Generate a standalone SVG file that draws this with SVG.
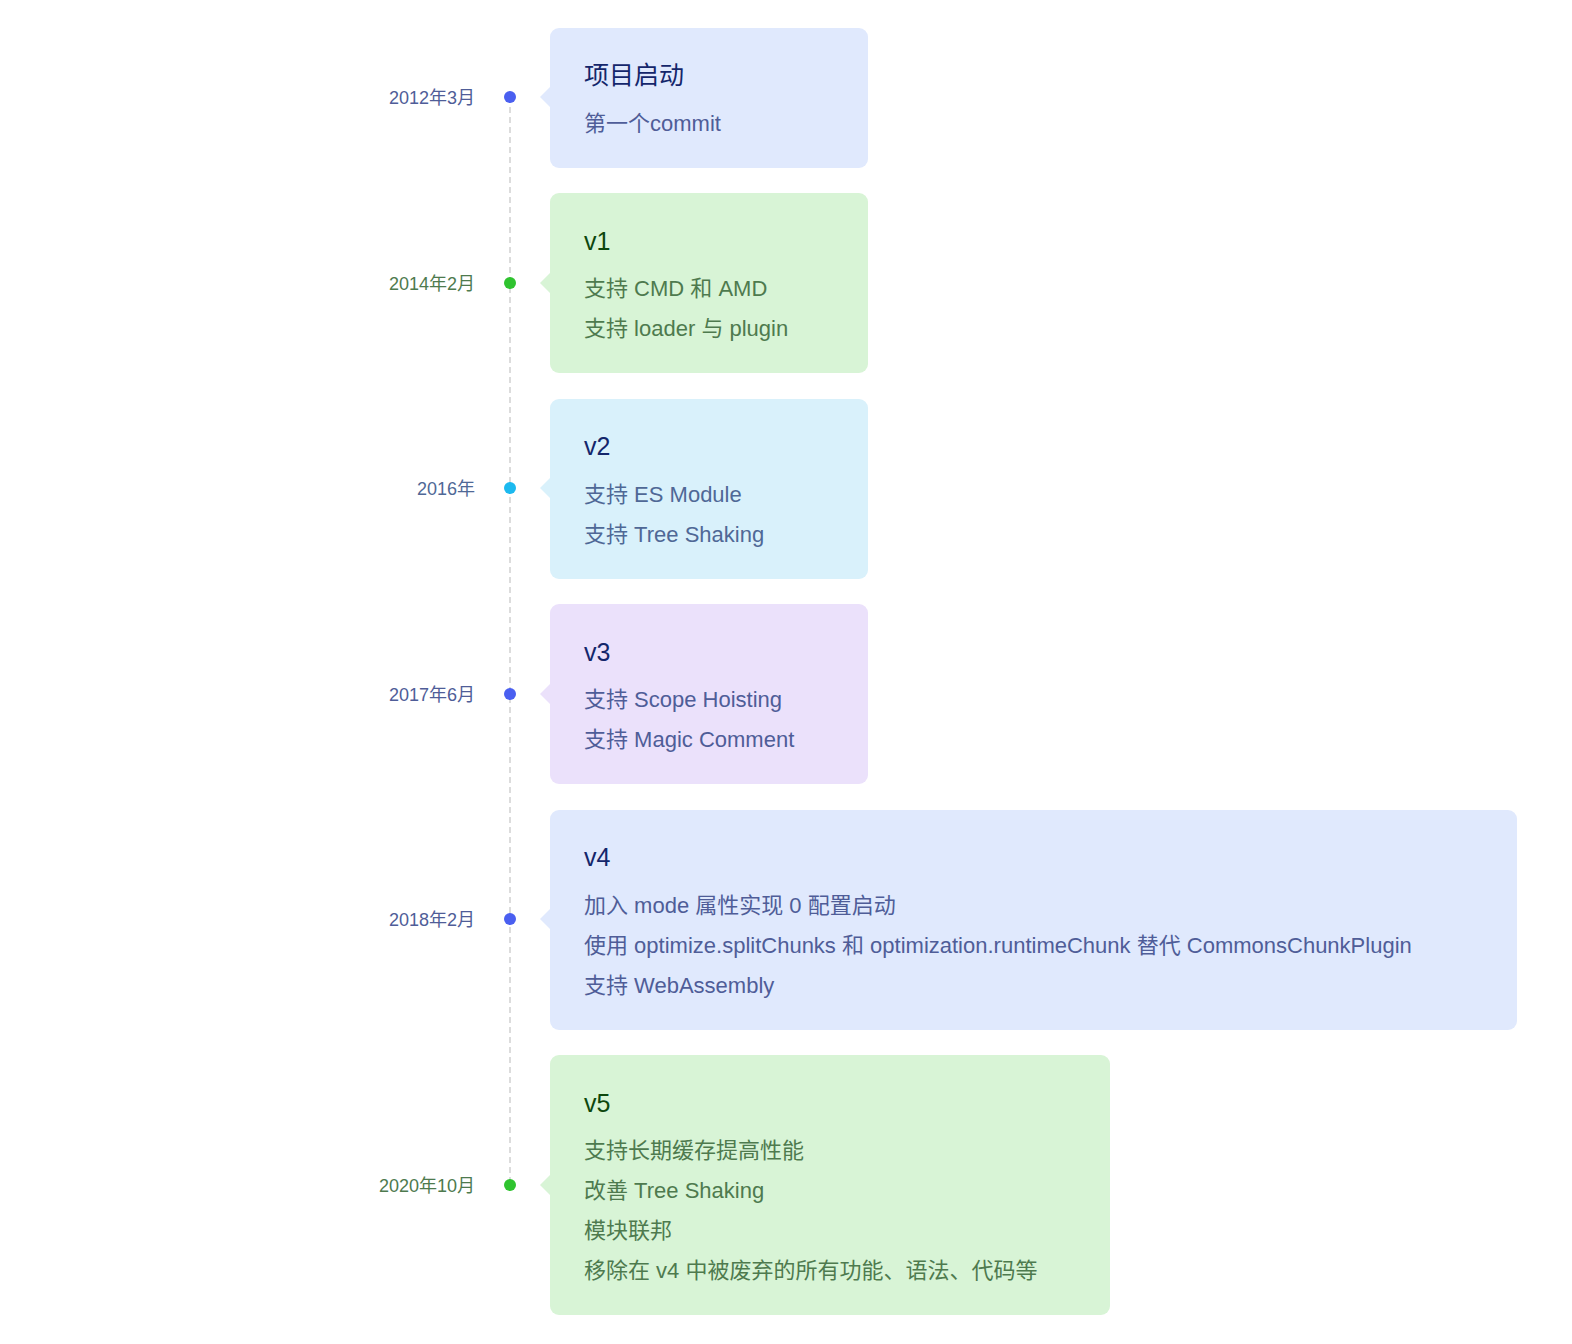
<svg xmlns="http://www.w3.org/2000/svg" width="1572" height="1344" viewBox="0 0 1572 1344">
<style>
text{font-family:"Liberation Sans","Noto Sans CJK SC",sans-serif}
.d{font-size:18px;text-anchor:end}
.t{font-size:25px}
.b{font-size:22px}
.bl .card{fill:#e0e9fd}.bl .t{fill:#14266b}.bl .b,.bl .d{fill:#4f5d98}.bl .dot{fill:#4a5ff0}
.gr .card{fill:#d8f4d6}.gr .t{fill:#0d470d}.gr .b,.gr .d{fill:#4e7a4e}.gr .dot{fill:#2fc32f}
.cy .card{fill:#d9f1fb}.cy .t{fill:#14266b}.cy .b,.cy .d{fill:#4f6896}.cy .dot{fill:#1cb9ef}
.pu .card{fill:#ebe1fb}.pu .t{fill:#14266b}.pu .b,.pu .d{fill:#4f5d98}.pu .dot{fill:#4a5ff0}
</style>
<rect width="1572" height="1344" fill="#fff"/>
<g id="connectors"><line x1="510" y1="97" x2="510" y2="1185" stroke="#dcdcdc" stroke-width="2" stroke-dasharray="6,4"/></g>
<g id="n1" class="bl"><text class="d" x="475" y="104">2012年3月</text><circle class="dot" cx="510" cy="97" r="6"/><rect class="card" x="550" y="28" width="318" height="140" rx="9"/><path class="card" d="M540 97 L551 86 L551 108Z"/><text class="t" x="584" y="84">项目启动</text><text class="b" x="584" y="131">第一个commit</text></g>
<g id="n2" class="gr"><text class="d" x="475" y="290">2014年2月</text><circle class="dot" cx="510" cy="283" r="6"/><rect class="card" x="550" y="193" width="318" height="180" rx="9"/><path class="card" d="M540 283 L551 272 L551 294Z"/><text class="t" x="584" y="250">v1</text><text class="b" x="584" y="296">支持 CMD 和 AMD</text><text class="b" x="584" y="336">支持 loader 与 plugin</text></g>
<g id="n3" class="cy"><text class="d" x="475" y="495">2016年</text><circle class="dot" cx="510" cy="488" r="6"/><rect class="card" x="550" y="399" width="318" height="180" rx="9"/><path class="card" d="M540 488 L551 477 L551 499Z"/><text class="t" x="584" y="455">v2</text><text class="b" x="584" y="502">支持 ES Module</text><text class="b" x="584" y="542">支持 Tree Shaking</text></g>
<g id="n4" class="pu"><text class="d" x="475" y="701">2017年6月</text><circle class="dot" cx="510" cy="694" r="6"/><rect class="card" x="550" y="604" width="318" height="180" rx="9"/><path class="card" d="M540 694 L551 683 L551 705Z"/><text class="t" x="584" y="661">v3</text><text class="b" x="584" y="707">支持 Scope Hoisting</text><text class="b" x="584" y="747">支持 Magic Comment</text></g>
<g id="n5" class="bl"><text class="d" x="475" y="926">2018年2月</text><circle class="dot" cx="510" cy="919" r="6"/><rect class="card" x="550" y="810" width="967" height="220" rx="9"/><path class="card" d="M540 919 L551 908 L551 930Z"/><text class="t" x="584" y="866">v4</text><text class="b" x="584" y="913">加入 mode 属性实现 0 配置启动</text><text class="b" x="584" y="953">使用 optimize.splitChunks 和 optimization.runtimeChunk 替代 CommonsChunkPlugin</text><text class="b" x="584" y="993">支持 WebAssembly</text></g>
<g id="n6" class="gr"><text class="d" x="475" y="1192">2020年10月</text><circle class="dot" cx="510" cy="1185" r="6"/><rect class="card" x="550" y="1055" width="560" height="260" rx="9"/><path class="card" d="M540 1185 L551 1174 L551 1196Z"/><text class="t" x="584" y="1112">v5</text><text class="b" x="584" y="1158">支持长期缓存提高性能</text><text class="b" x="584" y="1198">改善 Tree Shaking</text><text class="b" x="584" y="1238">模块联邦</text><text class="b" x="584" y="1278">移除在 v4 中被废弃的所有功能、语法、代码等</text></g>
</svg>
